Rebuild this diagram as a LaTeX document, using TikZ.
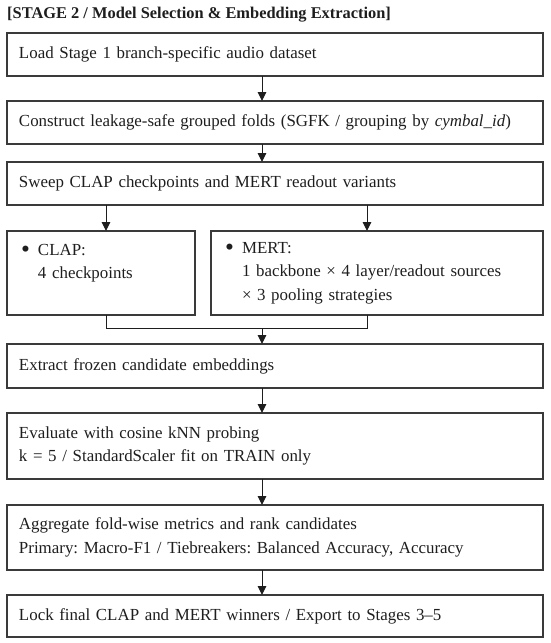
\documentclass[tikz,border=0pt]{standalone}
\usepackage{fontspec}
\usepackage{graphicx}
\setmainfont{Liberation Serif}
\frenchspacing
\usetikzlibrary{arrows.meta}
\definecolor{frame}{HTML}{3A3A3A}
\definecolor{ink}{HTML}{1E1E1E}
\newcommand{\bul}{\makebox[19pt][l]{\hspace{2pt}\raisebox{-2.6pt}{\scalebox{1.5}{\textbullet}}}}
\newcommand{\ind}{\hspace*{19pt}}
\begin{document}
\begin{tikzpicture}[x=1pt,y=-1pt,
  box/.style={draw=frame, line width=1.1pt, anchor=north west, inner xsep=12pt, inner ysep=0pt,
    align=left, text=ink, font=\fontsize{16.9}{23.5}\selectfont, outer sep=0pt},
  conn/.style={draw=ink, line width=1pt},
  arr/.style={conn, -{Triangle[length=9pt,width=8.5pt]}}]
\useasboundingbox (0,0) rectangle (550,643);
\node[anchor=west, inner sep=0pt, text=ink, font=\fontsize{16.4}{20}\selectfont\bfseries] (title) at (7,15)
  {[STAGE 2 / Model Selection \& Embedding Extraction]};
\node[box, text width=512pt, minimum height=43pt] (b1) at (7,33) {Load Stage 1 branch-specific audio dataset};
\node[box, text width=512pt, minimum height=43pt] (b2) at (7,101) {Construct leakage-safe grouped folds (SGFK / grouping by \textit{cymbal\_id})};
\node[box, text width=512pt, minimum height=43pt] (b3) at (7,162) {Sweep CLAP checkpoints and MERT readout variants};
\node[box, text width=164pt, minimum height=84pt] (clap) at (7,231) {\bul CLAP:\\\ind 4 checkpoints\\\mbox{}};
\node[box, text width=308pt, minimum height=84pt] (mert) at (211,231) {\bul MERT:\\\ind 1 backbone × 4 layer/readout sources\\\ind × 3 pooling strategies};
\node[box, text width=512pt, minimum height=44pt] (ext) at (7,344) {Extract frozen candidate embeddings};
\node[box, text width=512pt, minimum height=66pt] (eval) at (7,413) {Evaluate with cosine kNN probing\\k = 5 / StandardScaler fit on TRAIN only};
\node[box, text width=512pt, minimum height=65pt] (agg) at (7,505) {Aggregate fold-wise metrics and rank candidates\\Primary: Macro-F1 / Tiebreakers: Balanced Accuracy, Accuracy};
\node[box, text width=512pt, minimum height=42pt] (lock) at (7,595) {Lock final CLAP and MERT winners / Export to Stages 3--5};
\coordinate (ax) at (262,0);
\coordinate (cl) at (106,0);
\coordinate (me) at (367,0);
\coordinate (mj) at (262,328);
\draw[arr] (b1.south -| ax) -- (b2.north -| ax);
\draw[arr] (b2.south -| ax) -- (b3.north -| ax);
\draw[arr] (b3.south -| cl) -- (clap.north -| cl);
\draw[arr] (b3.south -| me) -- (mert.north -| me);
\draw[conn] (clap.south -| cl) |- (mj -| me) -- (mert.south -| me);
\draw[arr] (mj) -- (ext.north -| mj);
\draw[arr] (ext.south -| ax) -- (eval.north -| ax);
\draw[arr] (eval.south -| ax) -- (agg.north -| ax);
\draw[arr] (agg.south -| ax) -- (lock.north -| ax);
\end{tikzpicture}
\end{document}
